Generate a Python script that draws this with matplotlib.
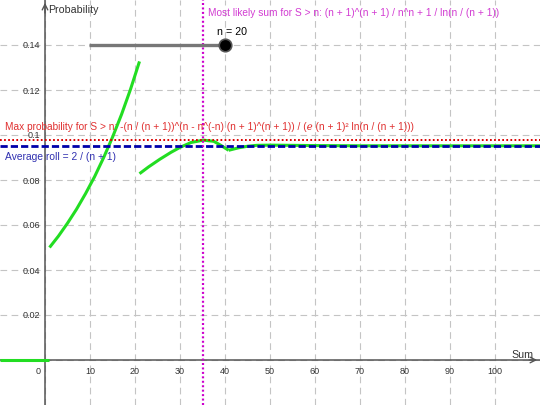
import matplotlib
matplotlib.use("Agg")
import matplotlib.pyplot as plt
from matplotlib.ticker import FixedLocator, FuncFormatter

plt.rcParams['font.family'] = ['Liberation Sans', 'DejaVu Sans']

# ---- data ----
n_value = 20
# piece 1: sums 1 .. n+1
sum1 = [1, 3, 5, 7, 9, 11, 13, 15, 17, 19, 21]
prob1 = [0.0500, 0.0551, 0.0608, 0.0670, 0.0739, 0.0814, 0.0898, 0.0990, 0.1091, 0.1203, 0.1327]
# piece 2: sums n+1 .. 2n+1
sum2 = [21, 23, 25.5, 28, 30, 32.5, 35.2, 37.5, 39, 40.8]
prob2 = [0.0828, 0.0858, 0.0892, 0.0923, 0.0945, 0.0967, 0.0977, 0.0972, 0.0955, 0.0932]
# piece 3: sums beyond 2n+1
sum3 = [40.8, 43, 45, 47, 50, 55, 60, 70, 80, 90, 100, 110]
prob3 = [0.0932, 0.0943, 0.0950, 0.0954, 0.0955, 0.0954, 0.0953, 0.0952, 0.0952, 0.0952, 0.0952, 0.0952]
# zero segment for S < 1
sum0 = [-10, 0.8]
prob0 = [0, 0]

average_roll = 0.0952      # 2 / (n + 1)
max_prob = 0.0977          # max probability for S > n
most_likely_sum = 35.22    # most likely sum for S > n

slider_range = [9.85, 40]
slider_y = 0.14

x_ticks = [10, 20, 30, 40, 50, 60, 70, 80, 90, 100]
y_ticks = [0.02, 0.04, 0.06, 0.08, 0.1, 0.12, 0.14]
x_grid = [0, 10, 20, 30, 40, 50, 60, 70, 80, 90, 100]
y_grid = [0, 0.02, 0.04, 0.06, 0.08, 0.1, 0.12, 0.14]

# ---- figure ----
fig = plt.figure(figsize=(5.4, 4.05), dpi=100)
ax = fig.add_axes([0, 0, 1, 1])
ax.set_xlim(-10, 110)
ax.set_ylim(-0.02, 0.16)

# grid
for gx in x_grid:
    ax.axvline(gx, color='#c4c4c4', lw=0.8, ls=(0, (6, 4)), zorder=0)
for gy in y_grid:
    ax.axhline(gy, color='#c4c4c4', lw=0.8, ls=(0, (6, 4)), zorder=0)

# axes through origin
for side in ['top', 'right']:
    ax.spines[side].set_visible(False)
ax.spines['left'].set_position(('data', 0))
ax.spines['bottom'].set_position(('data', 0))
ax.spines['left'].set_color('#555555')
ax.spines['bottom'].set_color('#555555')
ax.spines['left'].set_linewidth(1.1)
ax.spines['bottom'].set_linewidth(1.1)
ax.spines['left'].set_zorder(1)
ax.spines['bottom'].set_zorder(1)

ax.xaxis.set_major_locator(FixedLocator(x_ticks))
ax.yaxis.set_major_locator(FixedLocator(y_ticks))
ax.yaxis.set_major_formatter(FuncFormatter(lambda v, p: f"{v:g}"))
ax.xaxis.set_major_formatter(FuncFormatter(lambda v, p: f"{v:g}"))
ax.tick_params(axis='x', length=0, pad=5, labelsize=6.5, labelcolor='#333333')
ax.tick_params(axis='y', length=0, pad=3.5, labelsize=6.5, labelcolor='#333333')
ax.text(-1.6, -0.0031, '0', ha='center', va='top', fontsize=6.5, color='#333333')

# axis arrows
ax.annotate('', xy=(110, 0), xytext=(107, 0),
            arrowprops=dict(arrowstyle='->', color='#555555', lw=1.0), zorder=2)
ax.annotate('', xy=(0, 0.16), xytext=(0, 0.153),
            arrowprops=dict(arrowstyle='->', color='#555555', lw=1.0), zorder=2)

# axis titles
ax.text(0.67, 0.1556, 'Probability', ha='left', va='center', fontsize=7.7, color='#333333')
ax.text(106.2, 0.0022, 'Sum', ha='center', va='center', fontsize=7.7, color='#333333')

# green probability curve
green = '#22dd22'
for xs, ys in [(sum0, prob0), (sum1, prob1), (sum2, prob2), (sum3, prob3)]:
    ax.plot(xs, ys, color=green, lw=2.2, solid_capstyle='butt', zorder=3)

# horizontal reference lines
ax.axhline(average_roll, color='#0000aa', lw=2.0, ls=(0, (2.6, 1.1)), zorder=4)
ax.axhline(max_prob, color='#dd0000', lw=1.4, ls=(0, (0.9, 1.2)), zorder=4)
# vertical most likely sum
ax.axvline(most_likely_sum, color='#cc00cc', lw=1.6, ls=(0, (0.9, 1.1)), zorder=4)

# slider
ax.plot(slider_range, [slider_y, slider_y], color='#777777', lw=2.4, zorder=5,
        solid_capstyle='butt')
ax.plot([slider_range[1]], [slider_y], marker='o', ms=9, mfc='black', mec='#555555',
        mew=1.2, zorder=6)
ax.text(38.2, 0.1456, f'n = {n_value}', ha='left', va='center', fontsize=7.7, color='black')

# annotations
ax.text(36.2, 0.1541,
        'Most likely sum for S > n: (n + 1)^(n + 1) / n^n + 1 / ln(n / (n + 1))',
        ha='left', va='center', fontsize=7.3, color='#d23cd2', zorder=7)
ax.text(-8.9, 0.1037,
        'Max probability for S > n: -(n / (n + 1))^(n - n^(-n) (n + 1)^(n + 1)) / (ℯ (n + 1)² ln(n / (n + 1)))',
        ha='left', va='center', fontsize=7.3, color='#e03030', zorder=7)
ax.text(-8.9, 0.0904, 'Average roll = 2 / (n + 1)',
        ha='left', va='center', fontsize=7.4, color='#3030b0', zorder=7)

fig.savefig('out.png', dpi=100)
